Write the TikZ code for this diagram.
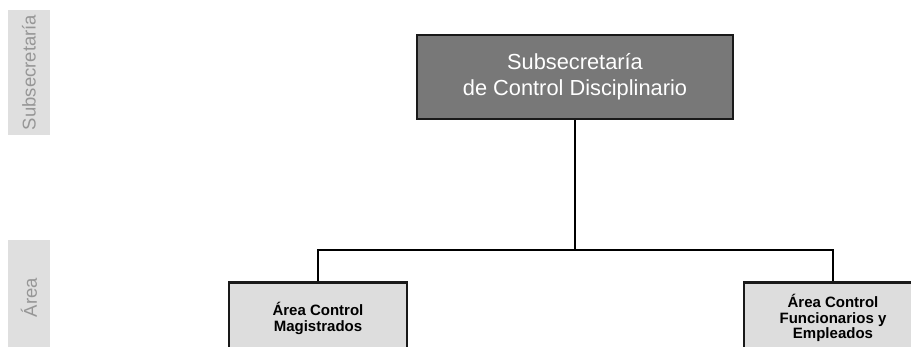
\documentclass[tikz,border=0pt]{standalone}
\usepackage{fontspec}
\setmainfont{Liberation Sans}
\definecolor{topgray}{RGB}{120,120,120}
\definecolor{boxgray}{RGB}{221,221,221}
\definecolor{bandgray}{RGB}{223,223,223}
\definecolor{bandtext}{RGB}{150,150,150}
\definecolor{edge}{RGB}{25,25,25}
\tikzset{
  band/.style={fill=bandgray, draw=none, rotate=90, text=bandtext,
    minimum height=42pt, inner sep=0pt, font=\fontsize{18.5}{20}\selectfont},
  topbox/.style={fill=topgray, draw=edge, line width=2.8pt, text=white,
    align=center, minimum width=316pt, minimum height=84pt, inner sep=0pt,
    font=\fontsize{21.8}{26}\selectfont},
  areabox/.style={fill=boxgray, draw=edge, line width=2.8pt, text=black,
    align=center, anchor=north, minimum width=178pt, minimum height=72pt,
    inner sep=0pt, font=\bfseries\fontsize{15}{15.5}\selectfont},
  conn/.style={draw=black, line width=2.2pt}
}
\begin{document}
\begin{tikzpicture}[x=1pt,y=-1pt]
\path[use as bounding box] (0,0) rectangle (911,347);
\begin{scope}
\clip (0,0) rectangle (911,347);
\node[band, minimum width=125pt] (lblsub) at (29,72.5) {Subsecretaría};
\node[band, minimum width=115pt] (lblarea) at (29,297.5) {Área};
\node[topbox] (top) at (575,77) {Subsecretaría\\de Control Disciplinario};
\node[areabox] (left) at (318,281) {Área Control\\Magistrados};
\node[areabox] (right) at (833,281) {Área Control\\Funcionarios y\\Empleados};
\coordinate (bus) at (575,250);
\draw[conn] (top.south) -- (bus);
\draw[conn] (left.north) |- (bus) -| (right.north);
\end{scope}
\end{tikzpicture}
\end{document}
